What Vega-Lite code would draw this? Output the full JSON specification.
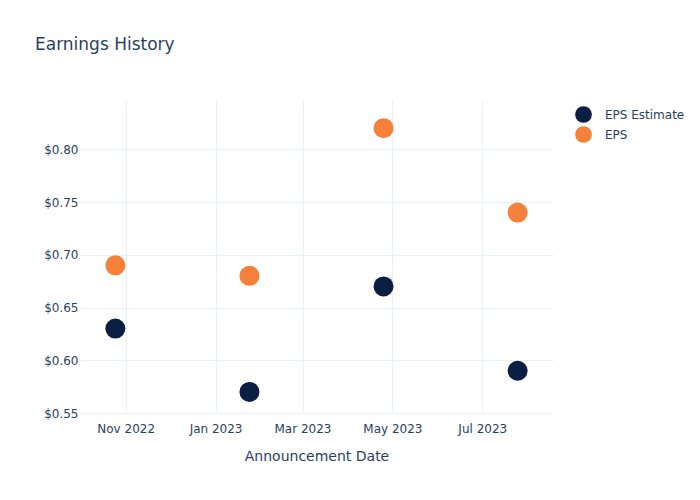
{
  "$schema": "https://vega.github.io/schema/vega-lite/v6.json",
  "width": 473,
  "height": 313,
  "autosize": {"type": "none"},
  "padding": {"left": 80, "top": 100, "right": 147, "bottom": 87},
  "background": "white",
  "config": {
    "font": "DejaVu Sans",
    "view": {"stroke": null},
    "axis": {"labelColor": "#2a3f5f", "titleColor": "#2a3f5f", "gridColor": "#ebf0f8", "domain": false, "ticks": false, "labelFontSize": 12, "titleFontSize": 14, "titleFontWeight": "normal"}
  },
  "title": {"text": "Earnings History", "anchor": "start", "frame": "group", "dx": -45, "dy": -42, "fontSize": 17, "fontWeight": "normal", "color": "#2a3f5f"},
  "data": {
    "values": [
      {"date": "2022-10-25", "series": "EPS Estimate", "value": 0.63},
      {"date": "2023-01-24", "series": "EPS Estimate", "value": 0.57},
      {"date": "2023-04-25", "series": "EPS Estimate", "value": 0.67},
      {"date": "2023-07-25", "series": "EPS Estimate", "value": 0.59},
      {"date": "2022-10-25", "series": "EPS", "value": 0.69},
      {"date": "2023-01-24", "series": "EPS", "value": 0.68},
      {"date": "2023-04-25", "series": "EPS", "value": 0.82},
      {"date": "2023-07-25", "series": "EPS", "value": 0.74}
    ]
  },
  "mark": {"type": "circle", "size": 400, "opacity": 1},
  "encoding": {
    "x": {
      "field": "date", "type": "temporal",
      "scale": {"type": "utc", "domain": [{"year": 2022, "month": 10, "date": 1, "utc": true}, {"year": 2023, "month": 8, "date": 18, "utc": true}]},
      "axis": {
        "values": [
          {"year": 2022, "month": 11, "date": 1, "utc": true},
          {"year": 2023, "month": 1, "date": 1, "utc": true},
          {"year": 2023, "month": 3, "date": 1, "utc": true},
          {"year": 2023, "month": 5, "date": 1, "utc": true},
          {"year": 2023, "month": 7, "date": 1, "utc": true}
        ],
        "format": "%b %Y", "title": "Announcement Date", "labelPadding": 10, "titlePadding": 15
      }
    },
    "y": {
      "field": "value", "type": "quantitative",
      "scale": {"domain": [0.55, 0.8467], "nice": false, "zero": false},
      "axis": {"values": [0.55, 0.6, 0.65, 0.7, 0.75, 0.8], "format": "$.2f", "title": null, "labelPadding": 2}
    },
    "color": {
      "field": "series", "type": "nominal",
      "scale": {"domain": ["EPS Estimate", "EPS"], "range": ["#0b1f42", "#f7813a"]},
      "legend": {"title": null, "orient": "none", "legendX": 494, "legendY": 5, "symbolSize": 280, "symbolType": "circle", "labelFontSize": 12, "labelColor": "#2a3f5f", "symbolOpacity": 1, "rowPadding": 2, "labelOffset": 12}
    }
  }
}
